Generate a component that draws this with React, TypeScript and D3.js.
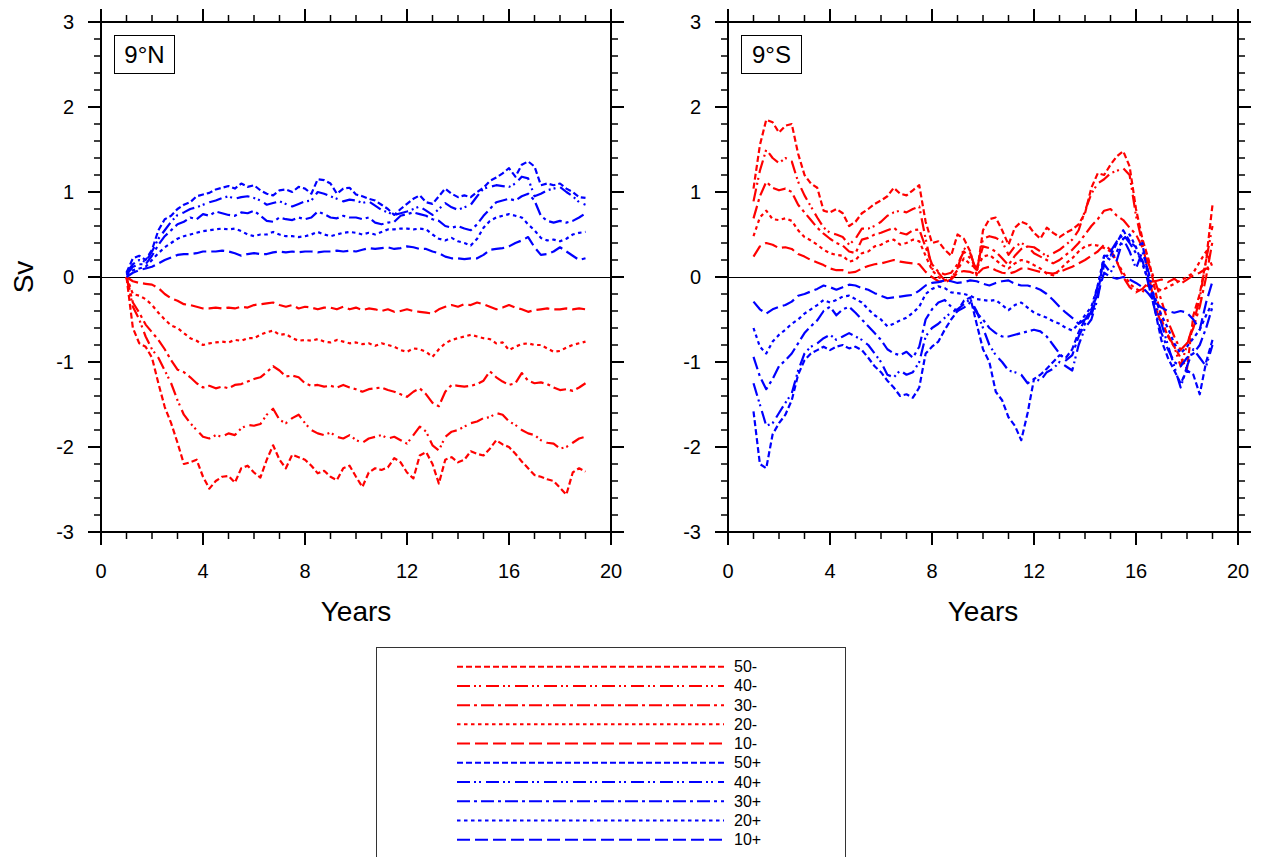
import React from 'react'
import * as d3 from 'd3'

// samples every 0.25 year from year 1 to year 19
const T0 = 1
const T1 = 19

// 9°N, negative transports
const nR10 = [
  0, -0.05, -0.07, -0.08, -0.09, -0.13, -0.2, -0.25,
  -0.28, -0.32, -0.33, -0.35, -0.37, -0.37, -0.36, -0.37,
  -0.36, -0.37, -0.35, -0.36, -0.33, -0.32, -0.31, -0.3,
  -0.33, -0.35, -0.33, -0.37, -0.35, -0.36, -0.38, -0.36,
  -0.36, -0.38, -0.35, -0.38, -0.36, -0.39, -0.37, -0.38,
  -0.4, -0.38, -0.41, -0.4, -0.38, -0.4, -0.41, -0.42,
  -0.43, -0.38, -0.35, -0.33, -0.35, -0.32, -0.33, -0.3,
  -0.32, -0.35, -0.38, -0.36, -0.33, -0.36, -0.38, -0.41,
  -0.39, -0.38, -0.37, -0.38, -0.38, -0.37, -0.38, -0.37,
  -0.38,
]
const nR20 = [
  0, -0.2, -0.22, -0.26, -0.33, -0.42, -0.5, -0.57,
  -0.6, -0.66, -0.72, -0.75, -0.8, -0.78, -0.77, -0.76,
  -0.77, -0.74, -0.75, -0.72, -0.72, -0.68, -0.65, -0.63,
  -0.68, -0.67, -0.72, -0.75, -0.74, -0.75, -0.73, -0.76,
  -0.77, -0.74, -0.76, -0.78, -0.77, -0.79, -0.78, -0.81,
  -0.78, -0.8, -0.82, -0.86, -0.88, -0.84, -0.85, -0.88,
  -0.94, -0.85, -0.78, -0.74, -0.72, -0.7, -0.68, -0.7,
  -0.72, -0.73, -0.78, -0.77, -0.86, -0.82, -0.79, -0.78,
  -0.8, -0.8, -0.84, -0.88, -0.87, -0.83, -0.8, -0.78,
  -0.76,
]
const nR30 = [
  0, -0.3, -0.42, -0.56, -0.65, -0.74, -0.85, -0.98,
  -1.09, -1.12, -1.18, -1.25, -1.3, -1.28, -1.31, -1.29,
  -1.31, -1.27, -1.26, -1.23, -1.2, -1.18, -1.12, -1.05,
  -1.1, -1.17, -1.16, -1.18, -1.25, -1.28, -1.27, -1.29,
  -1.28, -1.3, -1.27, -1.3, -1.32, -1.35, -1.32, -1.31,
  -1.3, -1.33, -1.35, -1.38, -1.41, -1.35, -1.31, -1.38,
  -1.48, -1.52, -1.35, -1.27, -1.28, -1.29, -1.28, -1.26,
  -1.22, -1.11, -1.18, -1.23, -1.27, -1.25, -1.13, -1.22,
  -1.25, -1.24, -1.26, -1.3, -1.33, -1.32, -1.34, -1.3,
  -1.25,
]
const nR40 = [
  0, -0.35, -0.5, -0.7, -0.85, -0.95, -1.1, -1.25,
  -1.45, -1.62, -1.72, -1.8, -1.88, -1.9, -1.86, -1.88,
  -1.84, -1.86, -1.78, -1.74, -1.75, -1.73, -1.62, -1.55,
  -1.68, -1.72, -1.66, -1.62, -1.72, -1.8, -1.84, -1.86,
  -1.83, -1.88, -1.9, -1.86, -1.92, -1.95, -1.9, -1.88,
  -1.86, -1.9, -1.88, -1.92, -1.96, -1.86, -1.76, -1.82,
  -1.98, -2.04, -1.88, -1.82, -1.8, -1.76, -1.72, -1.7,
  -1.66, -1.65, -1.6, -1.62, -1.7, -1.74, -1.8, -1.84,
  -1.86, -1.92, -1.95, -1.96, -2.02, -2.0, -1.95, -1.9,
  -1.88,
]
const nR50 = [
  0, -0.6, -0.78, -0.82, -0.95, -1.25, -1.53, -1.72,
  -1.95, -2.2, -2.18, -2.15, -2.35, -2.49, -2.4, -2.35,
  -2.34, -2.42, -2.25, -2.22, -2.3, -2.36, -2.15, -1.98,
  -2.15, -2.25, -2.09, -2.12, -2.15, -2.22, -2.31, -2.28,
  -2.35, -2.39, -2.25, -2.22, -2.35, -2.47, -2.3, -2.25,
  -2.27, -2.24, -2.13, -2.18, -2.3, -2.37, -2.1, -2.06,
  -2.2, -2.43, -2.15, -2.12, -2.18, -2.15, -2.05, -2.08,
  -2.1, -2.02, -1.92, -1.97, -2.0, -2.08, -2.17, -2.25,
  -2.33, -2.35, -2.38, -2.4, -2.48, -2.56, -2.3, -2.25,
  -2.29,
]

// 9°N, positive transports
const nB10 = [
  0, 0.05, 0.08, 0.1, 0.12, 0.16, 0.2, 0.23,
  0.26, 0.27, 0.27, 0.28, 0.3, 0.3, 0.3, 0.31,
  0.3, 0.28, 0.25, 0.27, 0.28, 0.27, 0.27, 0.29,
  0.3, 0.29, 0.3, 0.29, 0.3, 0.3, 0.29, 0.3,
  0.3, 0.31, 0.3, 0.31, 0.3, 0.32, 0.34, 0.33,
  0.34, 0.35, 0.33, 0.34, 0.36, 0.35, 0.33, 0.33,
  0.3, 0.28, 0.24, 0.22, 0.22, 0.21, 0.22, 0.22,
  0.26, 0.32, 0.33, 0.34, 0.36, 0.4, 0.43, 0.47,
  0.35, 0.26, 0.27, 0.3, 0.35, 0.3, 0.25, 0.2,
  0.22,
]
const nB20 = [
  0.02, 0.08, 0.1, 0.12, 0.2, 0.28, 0.35, 0.4,
  0.45, 0.48, 0.5, 0.52, 0.54, 0.55, 0.56, 0.57,
  0.56, 0.57, 0.54, 0.5, 0.48, 0.5, 0.5, 0.53,
  0.5, 0.48, 0.48, 0.47, 0.48, 0.5, 0.53, 0.5,
  0.48, 0.5, 0.52, 0.53, 0.52, 0.5, 0.52, 0.5,
  0.53, 0.56, 0.56, 0.57, 0.57, 0.56, 0.57, 0.56,
  0.5, 0.45, 0.43, 0.46, 0.42, 0.4, 0.37, 0.45,
  0.58, 0.66, 0.7, 0.72, 0.74, 0.72, 0.7, 0.62,
  0.55, 0.46, 0.43, 0.44, 0.42, 0.45, 0.5, 0.52,
  0.53,
]
const nB30 = [
  0.03, 0.12, 0.15, 0.15, 0.25, 0.38, 0.48, 0.55,
  0.62, 0.65, 0.7, 0.68, 0.74, 0.72, 0.77, 0.75,
  0.73, 0.72, 0.76, 0.75, 0.78, 0.72, 0.66, 0.65,
  0.7, 0.68, 0.67, 0.7, 0.68, 0.7, 0.77, 0.74,
  0.7, 0.69, 0.72, 0.7, 0.7, 0.68, 0.7, 0.64,
  0.62, 0.64, 0.65, 0.72, 0.74, 0.76, 0.74, 0.72,
  0.68, 0.66, 0.6, 0.58, 0.6, 0.57, 0.55, 0.62,
  0.72, 0.8, 0.88, 0.9, 0.92, 0.9, 0.95, 0.98,
  0.9, 0.72, 0.66, 0.64, 0.66, 0.64, 0.66, 0.7,
  0.75,
]
const nB40 = [
  0.05, 0.15, 0.2, 0.18, 0.3, 0.45, 0.55, 0.65,
  0.73, 0.76, 0.8, 0.82, 0.85, 0.88, 0.9, 0.93,
  0.95, 0.92, 0.94, 0.95, 0.93, 0.9, 0.85, 0.87,
  0.89, 0.86, 0.83, 0.86, 0.89, 0.9, 1.0, 0.98,
  0.95, 0.92, 0.89, 0.91, 0.9, 0.87, 0.89, 0.84,
  0.79, 0.76, 0.73, 0.75, 0.77, 0.8, 0.83, 0.78,
  0.73, 0.8, 0.87, 0.82, 0.79, 0.82, 0.85, 0.95,
  1.04, 1.06, 1.08, 1.07, 1.06, 1.1, 1.18, 1.16,
  0.95, 0.98, 1.02, 1.04, 1.06, 1.0, 0.95, 0.88,
  0.85,
]
const nB50 = [
  0.05, 0.22, 0.25, 0.2, 0.32, 0.55, 0.68, 0.72,
  0.8, 0.85, 0.88, 0.95, 0.97, 0.99, 1.03, 1.05,
  1.07, 1.04, 1.1, 1.06, 1.08, 1.02, 0.98, 0.96,
  1.02, 1.03, 1.0, 1.06, 1.04, 0.98, 1.15, 1.14,
  1.1, 0.98, 1.04, 1.05, 0.97, 0.95, 0.92, 0.9,
  0.85, 0.8, 0.73, 0.8, 0.86, 0.92, 0.96, 0.88,
  0.86, 0.95, 1.04, 0.98, 0.94, 0.96, 0.94, 1.0,
  1.05, 1.13, 1.17, 1.22, 1.28, 1.18, 1.32, 1.36,
  1.3, 1.08, 1.1, 1.08, 1.1, 1.04, 1.0, 0.94,
  0.93,
]

// 9°S, "-" series
const sR10 = [
  0.24, 0.36, 0.4, 0.38, 0.34, 0.35, 0.33, 0.27,
  0.24, 0.2, 0.17, 0.14, 0.1, 0.08, 0.08, 0.05,
  0.06, 0.1, 0.13, 0.15, 0.16, 0.18, 0.2, 0.18,
  0.17, 0.16, 0.15, 0.06, 0.0, -0.05, -0.06, -0.03,
  0.05, 0.07, 0.06, 0.03, 0.1, 0.12, 0.08, 0.05,
  0.04, 0.06, 0.1, 0.1, 0.08, 0.06, 0.05, 0.04,
  0.06, 0.09, 0.12, 0.16, 0.2, 0.25, 0.3, 0.38,
  0.32, 0.18, 0.0, -0.12, -0.18, -0.14, -0.06, -0.05,
  -0.03, -0.06, -0.02, -0.08, -0.03, 0.02, 0.05, 0.1,
  0.08,
]
const sR20 = [
  0.48, 0.7, 0.78, 0.68, 0.67, 0.69, 0.66, 0.55,
  0.47, 0.43, 0.38, 0.32, 0.28, 0.26, 0.25, 0.18,
  0.2, 0.28, 0.3, 0.36, 0.38, 0.42, 0.44, 0.38,
  0.4, 0.44, 0.42, 0.25, 0.08, 0.0, -0.04, -0.01,
  0.08, 0.22, 0.15, 0.1, 0.24, 0.26, 0.2, 0.14,
  0.1, 0.16, 0.2, 0.18, 0.14, 0.1, 0.04, 0.02,
  0.08, 0.16, 0.22, 0.3, 0.36, 0.38, 0.37, 0.34,
  0.3, 0.18, 0.05, -0.08, -0.14, -0.18, -0.08, -0.12,
  -0.16, -0.12, -0.08, -0.04, 0.0, 0.05, 0.18, 0.3,
  0.12,
]
const sR30 = [
  0.69, 0.95, 1.12, 1.05, 1.02, 1.04, 1.0, 0.85,
  0.76, 0.67, 0.58, 0.51, 0.45, 0.4, 0.37, 0.3,
  0.28, 0.44, 0.46, 0.5, 0.52, 0.55, 0.58, 0.52,
  0.5, 0.55, 0.56, 0.35, 0.15, 0.06, 0.03, 0.05,
  0.15, 0.3, 0.22, 0.1, 0.36, 0.34, 0.3, 0.22,
  0.14, 0.25, 0.33, 0.36, 0.28, 0.24, 0.2, 0.16,
  0.2, 0.26, 0.32, 0.4, 0.5, 0.6, 0.68, 0.78,
  0.8, 0.72, 0.67, 0.58, 0.5, 0.35, 0.15, -0.05,
  -0.28, -0.52, -0.7, -0.86, -0.78, -0.6, -0.35, 0.0,
  0.42,
]
const sR40 = [
  0.89, 1.25, 1.5, 1.4, 1.34, 1.4, 1.36, 1.12,
  0.96, 0.83, 0.7, 0.58, 0.52, 0.5, 0.47, 0.38,
  0.45, 0.57, 0.57, 0.6, 0.65, 0.72, 0.76, 0.78,
  0.76, 0.8, 0.83, 0.45, 0.1, 0.05, -0.04, -0.02,
  0.1, 0.34, 0.28, 0.06, 0.45, 0.48, 0.46, 0.42,
  0.26, 0.36, 0.4, 0.36, 0.35, 0.3, 0.24, 0.28,
  0.32, 0.38, 0.44, 0.55, 0.78, 0.98, 1.1, 1.15,
  1.22, 1.25, 1.28, 1.2, 0.72, 0.4, 0.02, -0.35,
  -0.55, -0.68, -0.82, -1.05, -0.8, -0.55, -0.25, 0.2,
  0.6,
]
const sR50 = [
  1.04, 1.55, 1.85, 1.82, 1.7, 1.78, 1.8, 1.45,
  1.2, 1.1, 1.05, 0.78, 0.76, 0.8, 0.75, 0.6,
  0.65, 0.75, 0.8, 0.86, 0.9, 0.95, 1.05, 0.98,
  0.96, 1.02, 1.08, 0.65, 0.4, 0.42, 0.32, 0.25,
  0.5, 0.45, 0.3, 0.02, 0.55, 0.68, 0.7, 0.55,
  0.38, 0.58, 0.65, 0.62, 0.52, 0.45, 0.58, 0.52,
  0.47, 0.52, 0.56, 0.62, 0.75, 1.05, 1.22, 1.2,
  1.32, 1.42, 1.48, 1.3, 0.8, 0.45, 0.2, -0.15,
  -0.5, -0.7, -0.82, -0.95, -1.08, -0.45, -0.2, 0.2,
  0.85,
]

// 9°S, "+" series
const sB10 = [
  -0.29, -0.38, -0.43, -0.38, -0.35, -0.33, -0.29, -0.22,
  -0.2, -0.17, -0.14, -0.1, -0.12, -0.15, -0.12, -0.09,
  -0.1, -0.13, -0.15, -0.19, -0.22, -0.25, -0.24, -0.23,
  -0.22, -0.21, -0.16, -0.1, -0.07, -0.06, -0.04, -0.05,
  -0.07, -0.06, -0.04, -0.05, -0.08, -0.1, -0.07, -0.05,
  -0.04, -0.08, -0.1, -0.1, -0.12, -0.15, -0.2, -0.27,
  -0.35, -0.42, -0.48, -0.55, -0.5, -0.45, -0.2, 0.05,
  0.0, -0.02, 0.0, -0.03, -0.07, -0.12, -0.2, -0.3,
  -0.36, -0.4, -0.42, -0.4, -0.42, -0.5, -0.62, -0.3,
  -0.05,
]
const sB20 = [
  -0.6, -0.82, -0.9, -0.76, -0.68, -0.62, -0.55, -0.5,
  -0.43, -0.38, -0.33, -0.27, -0.3, -0.27, -0.23, -0.22,
  -0.26, -0.3, -0.38, -0.45, -0.5, -0.58, -0.55, -0.51,
  -0.48, -0.42, -0.35, -0.2, -0.14, -0.11, -0.13, -0.18,
  -0.19, -0.2, -0.22, -0.26, -0.27, -0.28, -0.27, -0.33,
  -0.39, -0.33, -0.3, -0.36, -0.42, -0.45, -0.48, -0.52,
  -0.55, -0.6, -0.63, -0.55, -0.45, -0.35, -0.1, 0.25,
  0.2, 0.3, 0.45, 0.5, 0.35, 0.15, -0.05, -0.25,
  -0.45, -0.6, -0.78, -0.9, -0.82, -0.72, -0.62, -0.45,
  -0.3,
]
const sB30 = [
  -0.94, -1.17, -1.32, -1.2, -1.05, -0.98, -0.9, -0.78,
  -0.66, -0.58, -0.51, -0.4, -0.35, -0.45, -0.38, -0.35,
  -0.42, -0.5, -0.58, -0.66, -0.74, -0.85, -0.9, -0.92,
  -0.88, -0.95, -0.82, -0.5, -0.38, -0.3, -0.27, -0.35,
  -0.4, -0.36, -0.3, -0.42, -0.5, -0.6, -0.66, -0.7,
  -0.7, -0.68, -0.66, -0.64, -0.62, -0.64, -0.7, -0.8,
  -0.9, -0.98, -0.92, -0.7, -0.55, -0.4, -0.1, 0.2,
  0.3, 0.42, 0.5, 0.4, 0.28, 0.2, -0.1, -0.4,
  -0.66, -0.85, -1.0, -1.05, -0.95, -0.9, -0.8, -0.6,
  -0.35,
]
const sB40 = [
  -1.25, -1.5, -1.75, -1.72, -1.6, -1.48, -1.37, -1.1,
  -0.9, -0.82, -0.78, -0.72, -0.68, -0.74, -0.7, -0.66,
  -0.7, -0.74, -0.8, -0.9, -1.0, -1.15, -1.18, -1.1,
  -1.15, -1.12, -1.0, -0.7, -0.6, -0.55, -0.48, -0.42,
  -0.38, -0.32, -0.26, -0.4, -0.6, -0.8, -0.92, -1.0,
  -1.1, -1.12, -1.15, -1.25, -1.2, -1.22, -1.12, -1.08,
  -1.0, -1.05, -1.1, -0.8, -0.6, -0.5, -0.25, 0.15,
  0.05, 0.2, 0.45, 0.3, 0.1, 0.3, 0.05, -0.3,
  -0.55, -0.8, -1.05, -1.3, -1.05, -0.85, -0.95, -1.05,
  -0.8,
]
const sB50 = [
  -1.58, -2.2, -2.25, -1.85, -1.72, -1.62, -1.45, -1.15,
  -0.98, -0.9, -0.86, -0.82, -0.86, -0.82, -0.8, -0.84,
  -0.82, -0.86, -0.95, -1.05, -1.12, -1.22, -1.3, -1.4,
  -1.38, -1.42, -1.3, -0.9, -0.82, -0.76, -0.62, -0.5,
  -0.4, -0.28, -0.24, -0.55, -0.85, -1.0, -1.35, -1.45,
  -1.65, -1.75, -1.92, -1.6, -1.2, -1.15, -1.08, -1.0,
  -0.92, -0.95, -0.85, -0.65, -0.5, -0.38, -0.2, 0.25,
  0.25, 0.4, 0.55, 0.42, 0.35, 0.4, -0.05, -0.4,
  -0.75, -0.95, -1.1, -1.25, -1.1, -1.15, -1.38, -1.0,
  -0.74,
]

const legendLabels = ['50-', '40-', '30-', '20-', '10-', '50+', '40+', '30+', '20+', '10+']
const xTickValues = [0, 4, 8, 12, 16, 20]
const yTickValues = [-3, -2, -1, 0, 1, 2, 3]

const RED = '#ff0000'
const BLUE = '#0000ff'
const FONT = '"Liberation Sans", Arial, Helvetica, sans-serif'

const dashFor: Record<string, string> = {
  '50': '6,3',
  '40': '13,4,2,3,2,5',
  '30': '13,4,3,4',
  '20': '3.5,3.5',
  '10': '13,5',
}

function styleFor(label: string) {
  return {
    color: label.endsWith('-') ? RED : BLUE,
    dash: dashFor[label.slice(0, 2)],
  }
}

const northSeries = [
  { key: '50-', values: nR50 }, { key: '40-', values: nR40 }, { key: '30-', values: nR30 },
  { key: '20-', values: nR20 }, { key: '10-', values: nR10 },
  { key: '50+', values: nB50 }, { key: '40+', values: nB40 }, { key: '30+', values: nB30 },
  { key: '20+', values: nB20 }, { key: '10+', values: nB10 },
]
const southSeries = [
  { key: '50-', values: sR50 }, { key: '40-', values: sR40 }, { key: '30-', values: sR30 },
  { key: '20-', values: sR20 }, { key: '10-', values: sR10 },
  { key: '50+', values: sB50 }, { key: '40+', values: sB40 }, { key: '30+', values: sB30 },
  { key: '20+', values: sB20 }, { key: '10+', values: sB10 },
]

const TOP = 22
const W = 510
const H = 510
const MAJ = 13
const MIN = 7

function Panel({ left, label, series, showY }: { left: number, label: string, series: { key: string, values: number[] }[], showY: boolean }) {
  const x = d3.scaleLinear().domain([0, 20]).range([left, left + W])
  const y = d3.scaleLinear().domain([-3, 3]).range([TOP + H, TOP])
  const bottom = TOP + H
  const right = left + W

  const xMinor = d3.range(0, 21).filter(v => v % 4 !== 0)
  const yMinor = d3.range(-15, 16).map(v => v / 5).filter(v => Math.abs(v - Math.round(v)) > 1e-6)

  return (
    <g>
      <line x1={left} x2={right} y1={y(0) + 0.5} y2={y(0) + 0.5} stroke="#000" strokeWidth={1} shapeRendering="crispEdges" />
      {series.map(s => {
        const step = (T1 - T0) / (s.values.length - 1)
        const line = d3.line<number>()
          .x((_, i) => x(T0 + i * step))
          .y(d => y(d))
        const st = styleFor(s.key)
        return (
          <path key={s.key} d={line(s.values) || ''} fill="none" stroke={st.color}
            strokeWidth={2.2} strokeDasharray={st.dash} strokeLinejoin="round" />
        )
      })}
      <rect x={left} y={TOP} width={W} height={H} fill="none" stroke="#000" strokeWidth={2} />

      {xTickValues.map(v => (
        <g key={'xm' + v}>
          <line x1={x(v)} x2={x(v)} y1={bottom} y2={bottom + MAJ} stroke="#000" strokeWidth={2} />
          <line x1={x(v)} x2={x(v)} y1={TOP} y2={TOP - MAJ} stroke="#000" strokeWidth={2} />
          <text x={x(v)} y={bottom + 46} textAnchor="middle" fontSize={20} fontFamily={FONT}>{v}</text>
        </g>
      ))}
      {xMinor.map(v => (
        <g key={'xn' + v}>
          <line x1={x(v)} x2={x(v)} y1={bottom} y2={bottom + MIN} stroke="#000" strokeWidth={1.5} />
          <line x1={x(v)} x2={x(v)} y1={TOP} y2={TOP - MIN} stroke="#000" strokeWidth={1.5} />
        </g>
      ))}
      {yTickValues.map(v => (
        <g key={'ym' + v}>
          <line x1={left} x2={left - MAJ} y1={y(v)} y2={y(v)} stroke="#000" strokeWidth={2} />
          <line x1={right} x2={right + MAJ} y1={y(v)} y2={y(v)} stroke="#000" strokeWidth={2} />
          <text x={left - 27} y={y(v) + 7} textAnchor="end" fontSize={20} fontFamily={FONT}>{v}</text>
        </g>
      ))}
      {yMinor.map(v => (
        <g key={'yn' + v}>
          <line x1={left} x2={left - MIN} y1={y(v)} y2={y(v)} stroke="#000" strokeWidth={1.5} />
          <line x1={right} x2={right + MIN} y1={y(v)} y2={y(v)} stroke="#000" strokeWidth={1.5} />
        </g>
      ))}

      <text x={(left + right) / 2} y={621} textAnchor="middle" fontSize={28} fontFamily={FONT}>Years</text>
      {showY && (
        <text transform={`translate(33, ${y(0)}) rotate(-90)`} textAnchor="middle" fontSize={28} fontFamily={FONT}>Sv</text>
      )}

      <rect x={left + 13.5} y={35.5} width={60} height={38} fill="#fff" stroke="#000" strokeWidth={1} />
      <text x={left + 43.5} y={63} textAnchor="middle" fontSize={24} fontFamily={FONT}>{label}</text>
    </g>
  )
}

function Legend() {
  const rowY = d3.scaleLinear().domain([0, legendLabels.length - 1]).range([666.7, 839.7])
  return (
    <g>
      <rect x={376.5} y={647.5} width={469} height={230} fill="none" stroke="#333" strokeWidth={1} />
      {legendLabels.map((lab, i) => {
        const st = styleFor(lab)
        return (
          <g key={lab}>
            <line x1={457} x2={724} y1={rowY(i)} y2={rowY(i)} stroke={st.color} strokeWidth={2} strokeDasharray={st.dash} />
            <text x={734} y={rowY(i) + 5.5} fontSize={16} fontFamily={FONT}>{lab}</text>
          </g>
        )
      })}
    </g>
  )
}

export default function App() {
  return (
    <svg width={1264} height={857} style={{ position: 'absolute', left: 0, top: 0, background: '#fff' }}>
      <rect x={0} y={0} width={1264} height={857} fill="#fff" />
      <Panel left={101} label="9°N" series={northSeries} showY={true} />
      <Panel left={728} label="9°S" series={southSeries} showY={false} />
      <Legend />
    </svg>
  )
}
